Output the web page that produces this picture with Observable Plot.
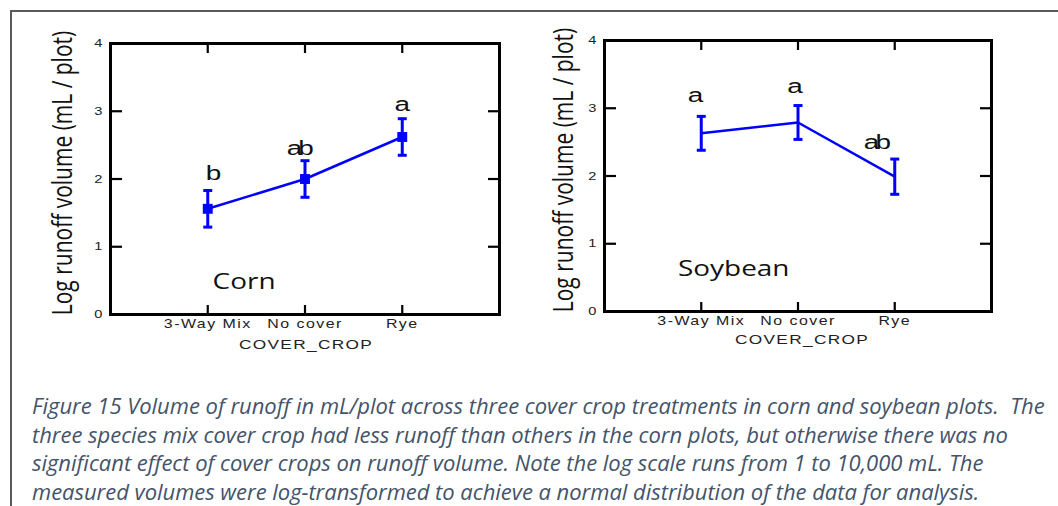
<!DOCTYPE html>
<html>
<head>
<meta charset="utf-8">
<script src="https://cdn.jsdelivr.net/npm/d3@7"></script>
<script src="https://cdn.jsdelivr.net/npm/@observablehq/plot@0.6"></script>
<style>
  html, body { margin: 0; padding: 0; background: #fff; width: 1058px; height: 506px; overflow: hidden; }
  #wrap { position: relative; width: 1058px; height: 506px; }
  #border { position: absolute; left: 10px; top: 10px; width: 1100px; height: 600px;
            border-left: 2px solid #5a5a5a; border-top: 2px solid #5a5a5a; }
  #corn { position: absolute; left: 0; top: 0; }
  #soy { position: absolute; left: 520px; top: 0; }
  #caption { position: absolute; left: 32px; top: 391px; width: 1026px;
             font-family: "Open Sans", sans-serif; font-style: italic; font-size: 22px;
             line-height: 28.5px; color: #44546a; white-space: nowrap; letter-spacing: -0.03px; }
</style>
</head>
<body>
<div id="wrap">
  <div id="border"></div>
  <div id="corn"></div>
  <div id="soy"></div>
  <div id="caption">Figure 15 Volume of runoff in mL/plot across three cover crop treatments in corn and soybean plots.&nbsp; The<br>three species mix cover crop had less runoff than others in the corn plots, but otherwise there was no<br>significant effect of cover crops on runoff volume. Note the log scale runs from 1 to 10,000 mL. The<br>measured volumes were log-transformed to achieve a normal distribution of the data for analysis.</div>
</div>
<script>
// ---- data ----
const categories = ["3-Way Mix", "No cover", "Rye"];
const yTicks = [0, 1, 2, 3, 4];
const xAxisLabel = "COVER_CROP";
const yAxisLabel = "Log runoff volume (mL / plot)";

const cornMean = [1.56, 2.00, 2.62];
const cornErr = [0.27, 0.27, 0.27];
const cornLetters = ["b", "ab", "a"];
const cornLetterX = [0.06, 0.93, 2.0];
const cornLetterY = [1.98, 2.36, 3.01];
const cornPanelLabel = "Corn";

const soyMean = [2.63, 2.79, 1.99];
const soyErr = [0.25, 0.25, 0.26];
const soyLetters = ["a", "a", "ab"];
const soyLetterX = [-0.06, 0.97, 1.8];
const soyLetterY = [3.09, 3.23, 2.40];
const soyPanelLabel = "Soybean";

const blue = "#0000ff";
const stretch = 1.33; // the original figure is stretched horizontally
// horizontal cap symbol for error bars
const capSymbol = {draw(ctx, size) { const w = Math.sqrt(size / Math.PI); ctx.moveTo(-w, 0); ctx.lineTo(w, 0); }};

function panel({mean, err, letters, letterX, letterY, label, labelPos, squares, width, margins, ylabDx, ylabDy, xlabDx, xlabDy}) {
  const rows = categories.map((c, i) => ({i, c, m: mean[i], lo: mean[i] - err[i], hi: mean[i] + err[i]}));
  const lets = letters.map((t, i) => ({t, x: letterX[i], y: letterY[i]}));
  const marks = [
    Plot.frame({stroke: "#000", strokeWidth: 3}),
    Plot.axisY(yTicks, {anchor: "left", tickSize: -12, strokeWidth: 2.2, tickFormat: () => ""}),
    Plot.axisY(yTicks, {anchor: "right", tickSize: -12, strokeWidth: 2.2, tickFormat: () => ""}),
    Plot.axisY(yTicks, {anchor: "left", tickSize: 0, tickPadding: 8, fontSize: 11, fontFamily: "Liberation Sans, Arial, sans-serif", fill: "#222", tickFormat: d => String(d)}),
    Plot.axisX([0, 1, 2], {anchor: "top", tickSize: -9, strokeWidth: 2.2, tickFormat: () => ""}),
    Plot.axisX([0, 1, 2], {anchor: "bottom", tickSize: -9, strokeWidth: 2.2, tickFormat: () => ""}),
    Plot.axisX([0, 1, 2], {anchor: "bottom", tickSize: 0, tickPadding: 5, fontSize: 12, fontFamily: "Liberation Sans, Arial, sans-serif", fill: "#222", tickFormat: i => categories[i]}),
    Plot.text([yAxisLabel], {frameAnchor: "left", textAnchor: "middle", rotate: -90, dx: ylabDx, dy: ylabDy, fontSize: 21, fontFamily: "Open Sans, sans-serif", fill: "#111"}),
    Plot.text([xAxisLabel], {frameAnchor: "bottom", textAnchor: "middle", dx: xlabDx, dy: xlabDy, fontSize: 13, fontFamily: "Liberation Sans, Arial, sans-serif", fill: "#222"}),
    Plot.lineY(rows, {x: "i", y: "m", stroke: blue, strokeWidth: 2.5}),
    Plot.ruleX(rows, {x: "i", y1: "lo", y2: "hi", stroke: blue, strokeWidth: 3}),
    Plot.dot(rows, {x: "i", y: "lo", symbol: capSymbol, r: 4.5, stroke: blue, strokeWidth: 3, fill: "none"}),
    Plot.dot(rows, {x: "i", y: "hi", symbol: capSymbol, r: 4.5, stroke: blue, strokeWidth: 3, fill: "none"}),
    Plot.text(lets, {x: "x", y: "y", text: "t", lineAnchor: "bottom", fontSize: 21, fontFamily: "Liberation Sans, Arial, sans-serif", fill: "#111"}),
    Plot.text([label], {x: () => labelPos[0], y: () => labelPos[1], textAnchor: "start", lineAnchor: "bottom", fontSize: 21, fontFamily: "Open Sans, sans-serif", fill: "#111"})
  ];
  if (squares) marks.push(Plot.dot(rows, {x: "i", y: "m", symbol: "square", r: 5.6, fill: blue}));
  const svg = Plot.plot({
    width, height: 360,
    marginLeft: margins[0], marginRight: margins[1], marginTop: margins[2], marginBottom: margins[3],
    x: {type: "linear", domain: [-1, 3]},
    y: {domain: [0, 4]},
    style: {background: "transparent", overflow: "visible"},
    marks
  });
  // stretch every text horizontally like the original figure
  d3.select(svg).selectAll("text").each(function() {
    const el = d3.select(this);
    let t = el.attr("transform");
    if (!t) {
      const x = +(el.attr("x") || 0), y = +(el.attr("y") || 0);
      el.attr("x", null).attr("y", null);
      t = `translate(${x},${y})`;
    }
    const rotated = /rotate\(/.test(t);
    el.attr("transform", t + (rotated ? ` scale(1,${stretch})` : ` scale(${stretch},1)`));
    const txt = this.textContent;
    if (txt === "ab") el.style("letter-spacing", "-3px");
    if (txt === xAxisLabel) el.style("letter-spacing", "1px");
    if (categories.includes(txt)) el.style("letter-spacing", "1.1px");
  });
  return svg;
}

const cornLabelPos = [0.05, 0.37];
const soyLabelPos = [-0.24, 0.53];

document.getElementById("corn").append(panel({
  mean: cornMean, err: cornErr, letters: cornLetters, letterX: cornLetterX, letterY: cornLetterY,
  label: cornPanelLabel, labelPos: cornLabelPos, squares: true,
  width: 520, margins: [110, 21, 43, 46], ylabDx: -47, ylabDy: -6, xlabDx: 1, xlabDy: 34
}));
document.getElementById("soy").append(panel({
  mean: soyMean, err: soyErr, letters: soyLetters, letterX: soyLetterX, letterY: soyLetterY,
  label: soyPanelLabel, labelPos: soyLabelPos, squares: false,
  width: 538, margins: [84, 67, 40, 49], ylabDx: -40, ylabDy: -6, xlabDx: 4, xlabDy: 32
}));
</script>
</body>
</html>
